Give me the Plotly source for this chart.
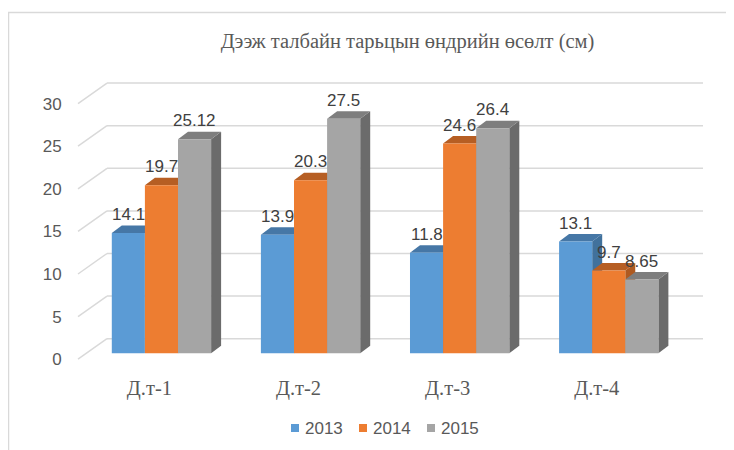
import plotly.graph_objects as go

# ---- data ----
categories = ["Д.т-1", "Д.т-2", "Д.т-3", "Д.т-4"]
years = ["2013", "2014", "2015"]
v2013 = [14.1, 13.9, 11.8, 13.1]
v2014 = [19.7, 20.3, 24.6, 9.7]
v2015 = [25.12, 27.5, 26.4, 8.65]
label2013 = ["14.1", "13.9", "11.8", "13.1"]
label2014 = ["19.7", "20.3", "24.6", "9.7"]
label2015 = ["25.12", "27.5", "26.4", "8.65"]
y_ticks = [0, 5, 10, 15, 20, 25, 30]
title_text = "Дээж талбайн тарьцын өндрийн өсөлт (см)"

series = [v2013, v2014, v2015]
labels = [label2013, label2014, label2015]
front_colors = ["#5B9BD5", "#ED7D31", "#A5A5A5"]
side_colors = ["#41719C", "#AE5A21", "#6B6B6B"]
top_colors = ["#4677A6", "#B65E23", "#7E7E7E"]

# ---- geometry (page pixel layout; page has an 8px body margin) ----
OFF = 8
W, H = 734 - OFF, 450 - OFF          # figure size
ML_P, MT_P = 72, 72                  # plot-area top-left on the page
PW, PH = 656, 294
XR = [-0.6, 3.8]
YR = [-1.5, 33.0]
px_x = PW / (XR[1] - XR[0])          # px per x unit
px_y = PH / (YR[1] - YR[0])          # px per y unit

BW = 33.1 / px_x                     # bar width in x units
DX = 10.0 / px_x                     # depth offset x
DY = 7.5 / px_y                      # depth offset y
BACK = 14.5 / px_y                   # back wall offset
FRONT = 6.0 / px_y                   # front edge offset
XFL = XR[0] + (78 - ML_P) / px_x     # front-left x
XBL = XR[0] + (107 - ML_P) / px_x    # back-left x
XBR = XR[0] + (703 - ML_P) / px_x    # back-right x
LABEL_SHIFT = -12 / px_x             # category labels sit a bit left


def paper_x(px):
    return (px - ML_P) / PW


def paper_y(py):
    return 1 - (py - MT_P) / PH


xpos = list(range(len(categories)))

fig = go.Figure()
shapes = []
annotations = []

# back wall grid lines + side-wall diagonals
grid_col = "#D9D9D9"
for v in y_ticks:
    shapes.append(dict(type="line", xref="x", yref="y", x0=XBL, x1=XBR,
                       y0=v + BACK, y1=v + BACK, layer="below",
                       line=dict(color=grid_col, width=1.5)))
    shapes.append(dict(type="line", xref="x", yref="y", x0=XFL, x1=XBL,
                       y0=v - FRONT, y1=v + BACK, layer="below",
                       line=dict(color=grid_col, width=1.5)))

for k, (vals, labs) in enumerate(zip(series, labels)):
    fig.add_trace(go.Bar(
        x=xpos, y=vals, name=years[k], width=BW,
        offset=(k - 1.5) * BW,
        marker=dict(color=front_colors[k], line=dict(width=0)),
        showlegend=False, hoverinfo="skip"))
    for i, v in enumerate(vals):
        xl = xpos[i] + (k - 1.5) * BW
        xr = xl + BW
        side = (f"M {xr},0 L {xr + DX},{DY} L {xr + DX},{v + DY} "
                f"L {xr},{v} Z")
        top = (f"M {xl},{v} L {xl + DX},{v + DY} L {xr + DX},{v + DY} "
               f"L {xr},{v} Z")
        shapes.append(dict(type="path", xref="x", yref="y", path=side,
                           fillcolor=side_colors[k], layer="below",
                           line=dict(width=0)))
        shapes.append(dict(type="path", xref="x", yref="y", path=top,
                           fillcolor=top_colors[k], layer="below",
                           line=dict(width=0)))
        annotations.append(dict(x=xl + BW / 2, y=v, xref="x", yref="y",
                                text=labs[i], showarrow=False,
                                yanchor="middle", yshift=18.5,
                                font=dict(family="Liberation Sans", size=17,
                                          color="#404040")))

# legend (square swatch + label per series)
leg_sq_x = [291, 359, 427]
leg_y = 428
for k, name in enumerate(years):
    shapes.append(dict(type="rect", xref="paper", yref="paper",
                       x0=paper_x(leg_sq_x[k]), x1=paper_x(leg_sq_x[k] + 8),
                       y0=paper_y(leg_y + 4), y1=paper_y(leg_y - 4),
                       fillcolor=front_colors[k], line=dict(width=0)))
    annotations.append(dict(x=paper_x(leg_sq_x[k] + 11.5), y=paper_y(leg_y),
                            xref="paper", yref="paper", text=name,
                            showarrow=False, xanchor="left", yanchor="middle",
                            font=dict(family="Liberation Sans", size=17,
                                      color="#595959")))

# chart border (outer frame)
shapes.append(dict(type="rect", xref="paper", yref="paper",
                   x0=paper_x(8.5), x1=2.0,
                   y0=-2.0, y1=paper_y(12.5),
                   line=dict(color="#D9D9D9", width=1.5),
                   fillcolor="rgba(0,0,0,0)", layer="below"))

fig.update_layout(
    width=W, height=H,
    margin=dict(l=ML_P - OFF, r=W - (ML_P - OFF) - PW, t=MT_P - OFF,
                b=H - (MT_P - OFF) - PH, pad=0, autoexpand=False),
    paper_bgcolor="white", plot_bgcolor="white",
    barmode="overlay",
    showlegend=False,
    title=dict(text=title_text, x=(407.5 - OFF) / W, xanchor="center",
               y=1 - (41 - OFF) / H, yanchor="middle", xref="container",
               yref="container",
               font=dict(family="Liberation Serif", size=20.5,
                         color="#595959")),
    xaxis=dict(range=XR, tickvals=[x + LABEL_SHIFT for x in xpos],
               ticktext=categories, showgrid=False, zeroline=False,
               showline=False, ticks="outside", ticklen=3,
               tickcolor="rgba(0,0,0,0)",
               tickfont=dict(family="Liberation Serif", size=20.5,
                             color="#595959")),
    yaxis=dict(range=YR, tickvals=[v - FRONT for v in y_ticks],
               ticktext=[str(v) for v in y_ticks], showgrid=False,
               zeroline=False, showline=False, ticks="outside", ticklen=6,
               tickcolor="rgba(0,0,0,0)",
               tickfont=dict(family="Liberation Sans", size=17,
                             color="#595959")),
    shapes=shapes,
    annotations=annotations,
)

fig.write_html("out.html")
